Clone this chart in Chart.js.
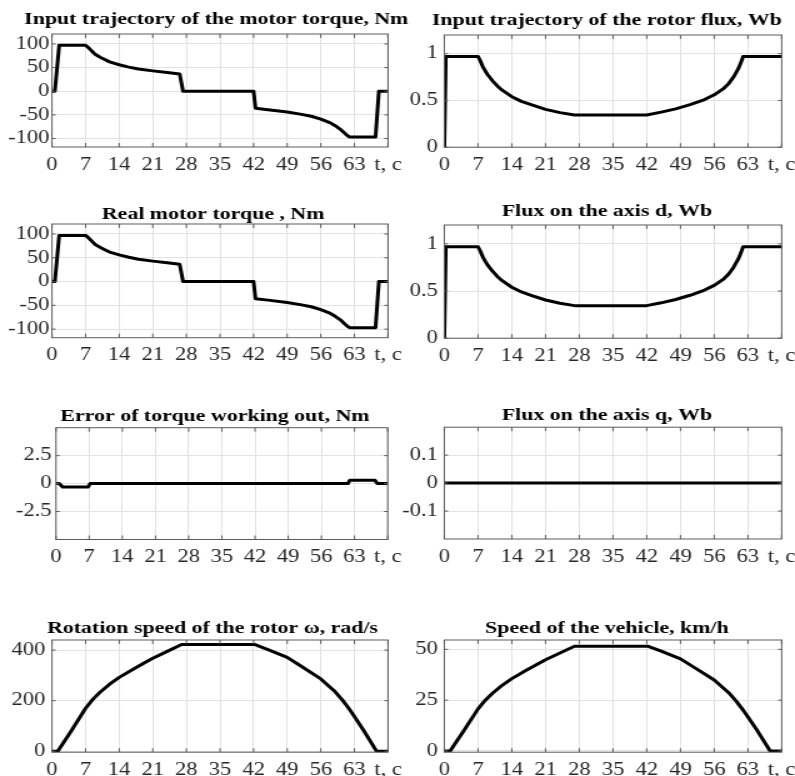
<!DOCTYPE html>
<html>
<head>
<meta charset="utf-8">
<script src="https://cdn.jsdelivr.net/npm/chart.js@4.4.0/dist/chart.umd.min.js"></script>
<style>
  html, body { margin: 0; padding: 0; background: #fff; }
  body { width: 795px; height: 776px; overflow: hidden; position: relative; }
  canvas { position: absolute; transform-origin: 0 0; }
</style>
</head>
<body>
<canvas id="c1"></canvas>
<canvas id="c2"></canvas>
<canvas id="c3"></canvas>
<canvas id="c4"></canvas>
<canvas id="c5"></canvas>
<canvas id="c6"></canvas>
<canvas id="c7"></canvas>
<canvas id="c8"></canvas>
<script>
// time axis, s
const timeTicks = [0, 7, 14, 21, 28, 35, 42, 49, 56, 63, 70];
const timeLabels = ['0', '7', '14', '21', '28', '35', '42', '49', '56', '63', 't, c'];

// torque, Nm
const torqueTime = [0, 0.6, 1.5, 7, 7.5, 8, 8.5, 9, 9.5, 10, 11, 12, 14, 16, 18, 21, 24, 26.6, 27.3, 42, 42.4, 45, 49, 52, 54, 56, 58, 59, 60, 61, 61.5, 62, 67.4, 68.1, 70];
const torqueInput = [0, 0, 97, 97, 93, 88, 83, 78, 75, 72, 67, 62, 56, 51, 47, 43, 39.5, 36.5, 0, 0, -36, -39, -44, -49, -53, -59, -67, -73, -80, -89, -93.5, -97, -97, 0, 0];
const torqueReal = [0, 0, 97, 97, 93, 88, 83, 78, 75, 72, 67, 62, 56, 51, 47, 43, 39.5, 36.5, 0, 0, -36, -39, -44, -49, -53, -59, -67, -73, -80, -89, -93.5, -97, -97, 0, 0];
const torqueTicks = [-100, -50, 0, 50, 100];

// torque error, Nm
const errorTime = [0, 0.7, 1.4, 6.8, 7.2, 61.6, 62, 67.3, 67.8, 70];
const torqueError = [0, 0, -0.3, -0.3, 0, 0, 0.3, 0.3, 0, 0];
const errorTicks = [-2.5, 0, 2.5];

// flux, Wb
const fluxTime = [0, 0.3, 7, 7.5, 8, 8.5, 9, 10, 11, 12, 14, 16, 18, 21, 24, 27, 42, 45, 48, 51, 54, 56, 58, 59, 60, 61, 61.5, 62, 70];
const fluxInput = [0, 0.97, 0.97, 0.92, 0.86, 0.815, 0.775, 0.71, 0.655, 0.61, 0.54, 0.49, 0.455, 0.405, 0.37, 0.345, 0.345, 0.375, 0.41, 0.455, 0.51, 0.56, 0.63, 0.68, 0.75, 0.84, 0.9, 0.97, 0.97];
const fluxD = [0, 0.97, 0.97, 0.92, 0.86, 0.815, 0.775, 0.71, 0.655, 0.61, 0.54, 0.49, 0.455, 0.405, 0.37, 0.345, 0.345, 0.375, 0.41, 0.455, 0.51, 0.56, 0.63, 0.68, 0.75, 0.84, 0.9, 0.97, 0.97];
const fluxQTime = [0, 70];
const fluxQ = [0, 0];
const fluxTicks = [0, 0.5, 1];
const fluxQTicks = [-0.1, 0, 0.1];

// speeds
const speedTime = [0, 1.2, 4, 7, 8.5, 10, 12, 14, 17, 19, 21, 24, 27, 42.3, 45, 49, 52, 56, 59, 60.6, 62, 63, 65, 67.6, 70];
const rotorSpeed = [0, 0, 80, 170, 205, 233, 265, 292, 325, 347, 368, 395, 422, 422, 402, 371, 335, 286, 235, 200, 165, 137, 80, 0, 0];
const vehicleSpeed = [0, 0, 9.8, 20.7, 25, 28.4, 32.3, 35.6, 39.7, 42.3, 44.9, 48.2, 51.5, 51.5, 49.1, 45.3, 40.9, 34.9, 28.7, 24.4, 20.1, 16.7, 9.8, 0, 0];
const rotorTicks = [0, 200, 400];
const vehicleTicks = [0, 25, 50];

const stretch = 1.25;
const serif = "'Liberation Serif', 'Times New Roman', serif";

const panels = [
  { id: 'c1', title: 'Input trajectory of the motor torque, Nm', t: torqueTime, v: torqueInput, ticks: torqueTicks, min: -118, max: 121,
    box: { left: 0, plotL: 52, plotR: 388, top: 33.5, bottom: 147, titleX: 216, titleY: 19.5, yPad: 2.7 } },
  { id: 'c2', title: 'Input trajectory of the rotor flux, Wb', t: fluxTime, v: fluxInput, ticks: fluxTicks, min: 0, max: 1.2,
    box: { left: 395, plotL: 444.3, plotR: 781.7, top: 34, bottom: 146.7, titleX: 607, titleY: 20, yPad: 6.6 } },
  { id: 'c3', title: 'Real motor torque , Nm', t: torqueTime, v: torqueReal, ticks: torqueTicks, min: -118, max: 121,
    box: { left: 0, plotL: 52, plotR: 388, top: 223.5, bottom: 337.7, titleX: 213, titleY: 214.5, yPad: 2.7 } },
  { id: 'c4', title: 'Flux on the axis d, Wb', t: fluxTime, v: fluxD, ticks: fluxTicks, min: 0, max: 1.2,
    box: { left: 395, plotL: 444.3, plotR: 781.7, top: 224, bottom: 337.7, titleX: 607, titleY: 211, yPad: 6.6 } },
  { id: 'c5', title: 'Error of torque working out, Nm', t: errorTime, v: torqueError, ticks: errorTicks, min: -5, max: 5,
    box: { left: 0, plotL: 56, plotR: 387.7, top: 426.7, bottom: 539, titleX: 214.7, titleY: 416, yPad: 4.3 } },
  { id: 'c6', title: 'Flux on the axis q, Wb', t: fluxQTime, v: fluxQ, ticks: fluxQTicks, min: -0.2, max: 0.2,
    box: { left: 395, plotL: 444.3, plotR: 781.7, top: 426.7, bottom: 539, titleX: 607, titleY: 415.5, yPad: 6.6 } },
  { id: 'c7', title: 'Rotation speed of the rotor \u03c9, rad/s', t: speedTime, v: rotorSpeed, ticks: rotorTicks, min: -4, max: 440,
    box: { left: 0, plotL: 52, plotR: 388, top: 639, bottom: 751.7, titleX: 212.5, titleY: 628, yPad: 6.7 } },
  { id: 'c8', title: 'Speed of the vehicle, km/h', t: speedTime, v: vehicleSpeed, ticks: vehicleTicks, min: -0.6, max: 54.6,
    box: { left: 395, plotL: 444.3, plotR: 781.7, top: 639, bottom: 751.7, titleX: 606.7, titleY: 628, yPad: 6.6 } }
];

// axes box with inward tick marks, like the original figure
const boxFrame = {
  id: 'boxFrame',
  afterDraw(chart) {
    const { ctx, chartArea: a, scales: { x, y } } = chart;
    ctx.save();
    ctx.strokeStyle = '#5c5c5c';
    ctx.lineWidth = 1;
    ctx.beginPath();
    x.ticks.forEach(t => {
      const px = x.getPixelForValue(t.value);
      ctx.moveTo(px, a.bottom); ctx.lineTo(px, a.bottom - 4);
      ctx.moveTo(px, a.top); ctx.lineTo(px, a.top + 4);
    });
    y.ticks.forEach(t => {
      const py = y.getPixelForValue(t.value);
      ctx.moveTo(a.left, py); ctx.lineTo(a.left + 3, py);
      ctx.moveTo(a.right, py); ctx.lineTo(a.right - 3, py);
    });
    ctx.stroke();
    ctx.strokeRect(a.left, a.top, a.right - a.left, a.bottom - a.top);
    ctx.restore();
  }
};

const fmt = v => String(v);

panels.forEach(p => {
  const b = p.box;
  const yWidth = (b.plotL - b.left) / stretch;
  const plotW = (b.plotR - b.plotL) / stretch;
  const totalW = Math.round(2 * (b.titleX - b.left) / stretch);
  const padRight = totalW - yWidth - plotW;
  const titleH = 17;
  const canvasTop = b.titleY - titleH / 2;
  const titleGap = b.top - canvasTop - titleH;
  const h = Math.round(b.bottom - canvasTop + 30);
  const xHeight = h - (b.bottom - canvasTop);

  const canvas = document.getElementById(p.id);
  canvas.width = totalW;
  canvas.height = h;
  canvas.style.width = totalW + 'px';
  canvas.style.height = h + 'px';
  canvas.style.left = b.left + 'px';
  canvas.style.top = canvasTop + 'px';
  canvas.style.transform = `scaleX(${stretch})`;

  const yTicks = p.ticks;

  new Chart(canvas, {
    type: 'line',
    data: {
      datasets: [{
        data: p.t.map((x, i) => ({ x, y: p.v[i] })),
        borderColor: '#000',
        borderWidth: 3,
        borderJoinStyle: 'round',
        pointRadius: 0,
        fill: false
      }]
    },
    options: {
      responsive: false,
      animation: false,
      devicePixelRatio: 1,
      layout: { padding: 0 },
      plugins: {
        legend: { display: false },
        tooltip: { enabled: false },
        title: {
          display: true,
          text: p.title,
          color: '#000',
          font: { family: serif, size: 17.5, weight: 'bold', lineHeight: 1 },
          padding: { top: 0, bottom: titleGap }
        }
      },
      scales: {
        x: {
          type: 'linear',
          min: 0,
          max: 70,
          afterBuildTicks: s => { s.ticks = timeTicks.map(value => ({ value })); },
          afterFit: s => { s.height = xHeight; },
          grid: { color: '#e2e2e2', drawTicks: false },
          border: { display: false },
          ticks: {
            autoSkip: false,
            maxRotation: 0,
            padding: 7,
            color: '#262626',
            font: { family: serif, size: 18 },
            callback: (v, i) => timeLabels[i]
          }
        },
        y: {
          type: 'linear',
          min: p.min,
          max: p.max,
          afterBuildTicks: s => { s.ticks = yTicks.map(value => ({ value })); },
          afterFit: s => { s.width = yWidth; },
          grid: { color: '#e2e2e2', drawTicks: false },
          border: { display: false },
          ticks: {
            autoSkip: false,
            padding: b.yPad / stretch,
            color: '#262626',
            font: { family: serif, size: 18 },
            callback: v => fmt(v)
          }
        },
        // empty right-hand strip that leaves room for the "t, c" label
        yR: {
          type: 'linear',
          position: 'right',
          display: true,
          min: 0,
          max: 1,
          afterFit: s => { s.width = padRight; },
          grid: { display: false },
          border: { display: false },
          ticks: { display: false }
        }
      }
    },
    plugins: [boxFrame]
  });
});
</script>
</body>
</html>
